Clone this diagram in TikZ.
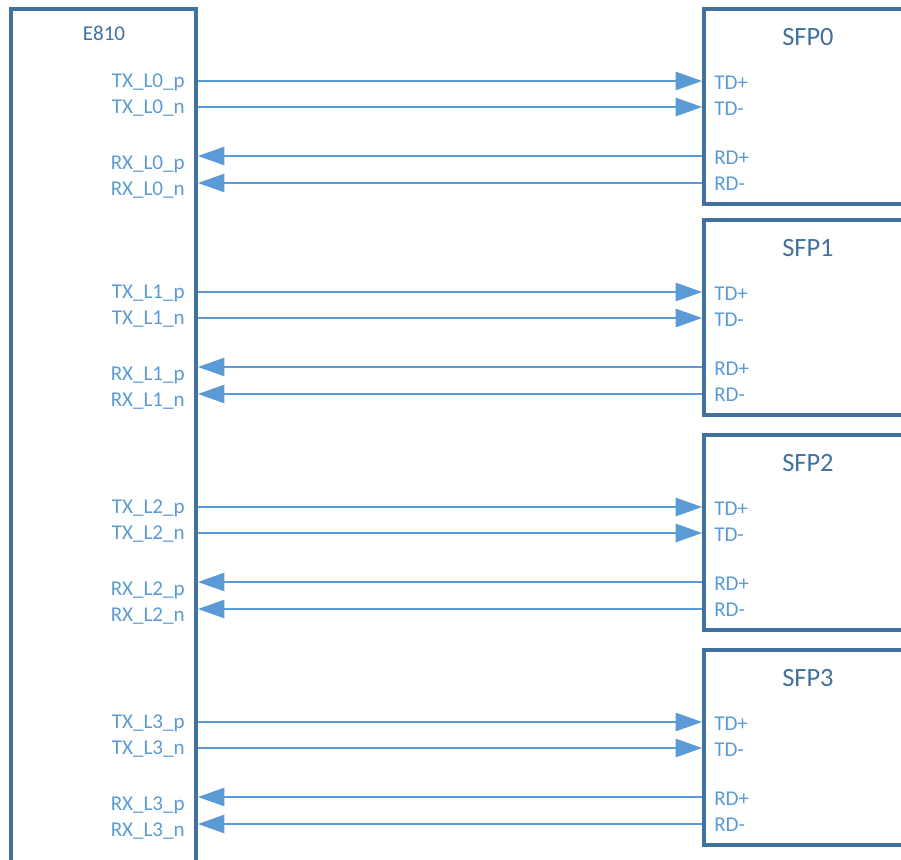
\documentclass[tikz,border=0pt]{standalone}
\usepackage{fontspec}
\setmainfont{Carlito}
\usetikzlibrary{arrows.meta,positioning}
\definecolor{boxline}{HTML}{41719C}
\definecolor{pinblue}{HTML}{5B9BD5}

\begin{document}
\begin{tikzpicture}[
    x=0.75pt, y=-0.75pt,
    chip/.style={draw=boxline, line width=2.6pt, inner sep=0pt},
    title/.style={text=boxline, inner sep=0pt},
    pinl/.style={text=pinblue, font=\fontsize{15.8}{18}\selectfont, inner sep=0pt},
    sig/.style={draw=pinblue, line width=2pt, -{Triangle[length=20pt,width=13.5pt]}}
]
\useasboundingbox (0,0) rectangle (901,860);
\clip (0,0) rectangle (901,860);

% E810 device (runs off the bottom)
\node[chip, minimum width=138.75pt, minimum height=668pt] (e810) at (103.5,454.5) {};
\node[title, font=\fontsize{15.8}{18}\selectfont] (e810t) at (104,33) {E810};

% one SFP cage per lane
\foreach \n/\y in {0/81,1/292,2/507,3/722} {
  \node[chip, minimum width=192pt, minimum height=146.25pt] (sfp\n) at (832,\y+25.5) {};
  \node[title, font=\fontsize{19.8}{22}\selectfont] (sfpt\n) at (808,\y-44) {SFP\n};

  % rows of the lane
  \coordinate (txp\n) at (450,\y);
  \coordinate (txn\n) at (450,\y+26);
  \coordinate (rxp\n) at (450,\y+75);
  \coordinate (rxn\n) at (450,\y+102);

  % E810 pin names
  \node[pinl, anchor=east] (etxp\n) at (185,\y+1) {TX\_L\n\_p};
  \node[pinl, anchor=east] (etxn\n) at (185,\y+27) {TX\_L\n\_n};
  \node[pinl, anchor=east] (erxp\n) at (185,\y+83) {RX\_L\n\_p};
  \node[pinl, anchor=east] (erxn\n) at (185,\y+109) {RX\_L\n\_n};

  % SFP pin names
  \node[pinl, anchor=west] (stdp\n) at (714,\y+1.5) {TD+};
  \node[pinl, anchor=west] (stdn\n) at (714,\y+27.5) {TD-};
  \node[pinl, anchor=west] (srdp\n) at (714,\y+76.5) {RD+};
  \node[pinl, anchor=west] (srdn\n) at (714,\y+102.5) {RD-};

  % signals
  \draw[sig] (e810.east |- txp\n) -- (sfp\n.west |- txp\n);
  \draw[sig] (e810.east |- txn\n) -- (sfp\n.west |- txn\n);
  \draw[sig] (sfp\n.west |- rxp\n) -- (e810.east |- rxp\n);
  \draw[sig] (sfp\n.west |- rxn\n) -- (e810.east |- rxn\n);
}

\end{tikzpicture}
\end{document}
